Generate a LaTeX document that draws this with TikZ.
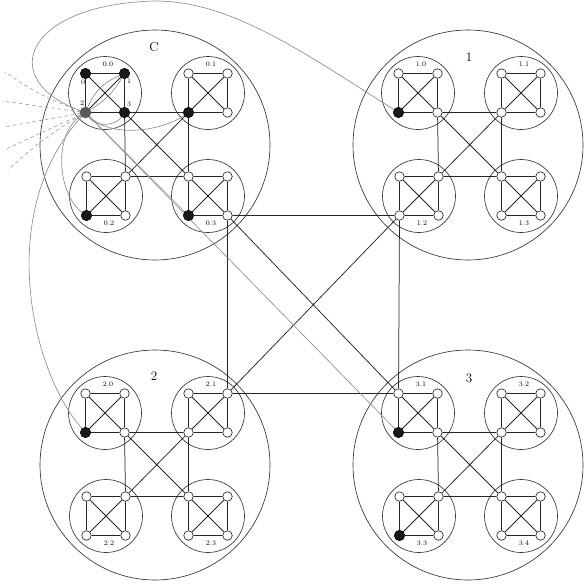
\documentclass[tikz,border=0pt]{standalone}
\pgfdeclarelayer{bg}
\pgfsetlayers{bg,main}
\begin{document}
\begin{tikzpicture}[x=1pt,y=-1pt,
  blk/.style={draw=black!85, line width=0.75pt},
  gry/.style={draw=black!45, line width=0.65pt},
  dsh/.style={draw=black!40, line width=0.6pt, dash pattern=on 3.5pt off 3pt},
  ring/.style={draw=black!80, line width=0.65pt},
  wn/.style={circle, draw=black!85, fill=white, line width=0.65pt, minimum size=9.5pt, inner sep=0pt},
  bn/.style={circle, draw=black, fill=black!90, minimum size=10.5pt, inner sep=0pt},
  sn/.style={circle, draw=black!65, fill=black!65, minimum size=11pt, inner sep=0pt},
  sublab/.style={font=\fontsize{7}{8}\selectfont, inner sep=0pt},
  cllab/.style={font=\fontsize{13}{14}\selectfont, inner sep=0pt},
]
\useasboundingbox (0,0) rectangle (584,586);

% clusters, subclusters and processor nodes: n<cluster><sub><corner>
\foreach \c/\cx/\cy/\off in {0/155/145/0,1/468/145/0,2/155/465/0,3/468/465/1}{
  \foreach \s/\sx/\sy/\ly in {0/-50/-52/-29,1/53/-52/-29,2/-49/51/27,3/53/51/27}{
    \pgfmathtruncatemacro\lab{\s+\off}
    \node[sublab] (l\c\s) at (\cx+\sx+3,\cy+\sy+\ly) {\c.\lab};
    \foreach \k/\kx/\ky in {0/-19.5/-19.5,1/19.5/-19.5,2/-19.5/19.5,3/19.5/19.5}{
      \node[wn] (n\c\s\k) at (\cx+\sx+\kx,\cy+\sy+\ky) {};
    }
  }
}

% cluster labels
\node[cllab] (lc0) at (154,47) {C};
\node[cllab] (lc1) at (469,57) {1};
\node[cllab] (lc2) at (154,376) {2};
\node[cllab] (lc3) at (469,378) {3};

% node labels inside 0.0
\node[sublab] (k0) at (83,82) {0};
\node[sublab] (k1) at (129,81) {1};
\node[sublab] (k2) at (82,103) {2};
\node[sublab] (k3) at (129,104) {3};

% filled (reached) nodes
\node[bn] (f000) at (n000) {};
\node[bn] (f001) at (n001) {};
\node[bn] (f003) at (n003) {};
\node[sn] (f002) at (n002) {};
\node[bn] (f012) at (n012) {};
\node[bn] (f022) at (n022) {};
\node[bn] (f032) at (n032) {};
\node[bn] (f102) at (n102) {};
\node[bn] (f202) at (n202) {};
\node[bn] (f302) at (n302) {};
\node[bn] (f322) at (n322) {};

% free ends of the dashed lines
\coordinate (d1) at (5,72);
\coordinate (d2) at (2,101);
\coordinate (d3) at (4,127);
\coordinate (d4) at (4,150);
\coordinate (d5) at (8,170);

\begin{pgfonlayer}{bg}
  % rings
  \foreach \c/\cx/\cy in {0/155/145,1/468/145,2/155/465,3/468/465}{
    \draw[ring] (\cx,\cy) circle[radius=115];
    \foreach \s/\sx/\sy in {0/-50/-52,1/53/-52,2/-49/51,3/53/51}{
      \draw[ring] (\cx+\sx,\cy+\sy) circle[radius=36.5];
    }
  }
  % edges inside subclusters and between subclusters
  \foreach \c in {0,1,2,3}{
    \foreach \s in {0,1,2,3}{
      \draw[blk] (n\c\s0)--(n\c\s1) (n\c\s1)--(n\c\s3) (n\c\s3)--(n\c\s2)
                 (n\c\s2)--(n\c\s0) (n\c\s0)--(n\c\s3) (n\c\s1)--(n\c\s2);
    }
    \draw[blk] (n\c03)--(n\c12) (n\c03)--(n\c21) (n\c03)--(n\c30)
               (n\c12)--(n\c21) (n\c12)--(n\c30) (n\c21)--(n\c30);
  }
  % edges between clusters
  \draw[blk] (n033)--(n122) (n033)--(n211) (n033)--(n300)
             (n122)--(n211) (n122)--(n300) (n211)--(n300);

  % broadcast routes from node 2 of 0.0
  \draw[gry] (n002) to[bend left=22] (n001);
  \draw[gry] (n002) to[bend right=14] (n001);
  \draw[gry] (n002) .. controls (95,127) and (115,127) .. (n003);
  \draw[gry] (n002) .. controls (110,138) and (160,132) .. (n012);
  \draw[gry] (n002) .. controls (52,135) and (58,195) .. (n022);
  \draw[gry] (n002) -- (n032);
  \draw[gry] (n002) .. controls (-5,80) and (25,4) .. (155,1)
                    .. controls (230,1) and (300,50) .. (n102);
  \draw[gry] (n002) .. controls (-5,210) and (30,370) .. (n202);
  \draw[gry] (n002) -- (n302);

  \draw[dsh] (n002) to[bend left=8] (d1);
  \draw[dsh] (n002) -- (d2);
  \draw[dsh] (n002) -- (d3);
  \draw[dsh] (n002) -- (d4);
  \draw[dsh] (n002) to[bend right=6] (d5);
\end{pgfonlayer}
\end{tikzpicture}
\end{document}
